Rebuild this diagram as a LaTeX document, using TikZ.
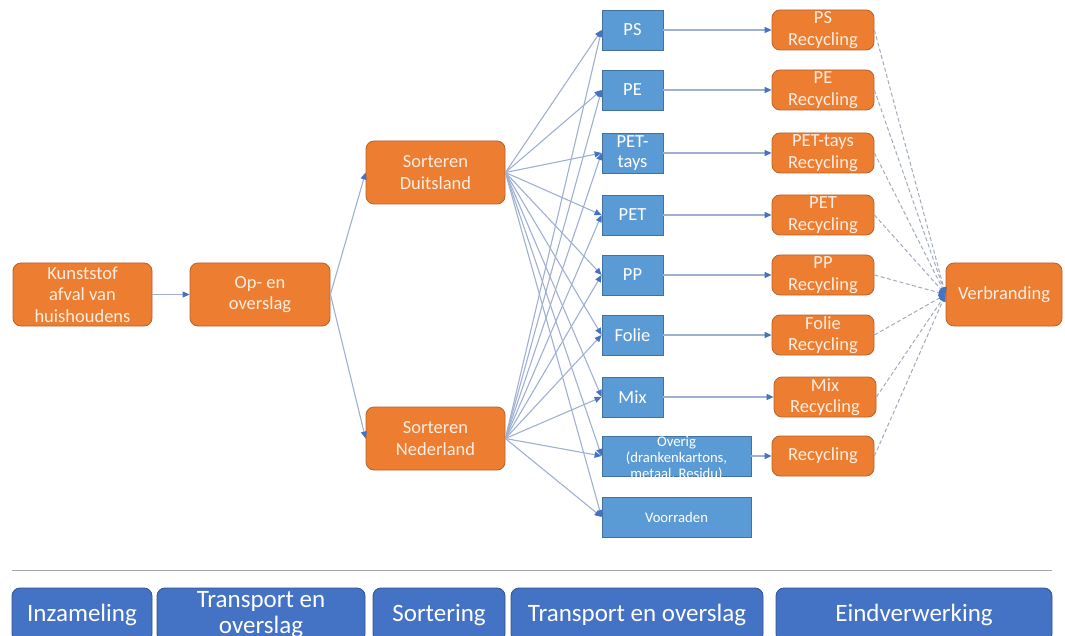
\documentclass[tikz,border=0pt]{standalone}
\usepackage{fontspec}
\setmainfont{Carlito}
\usetikzlibrary{arrows.meta}
\definecolor{orFill}{HTML}{ED7D31}
\definecolor{orLine}{HTML}{B5612A}
\definecolor{orText}{HTML}{FDEEE3}
\definecolor{blFill}{HTML}{5B9BD5}
\definecolor{blLine}{HTML}{41719C}
\definecolor{phFill}{HTML}{4472C4}
\definecolor{phLine}{HTML}{2F528F}
\definecolor{conLine}{HTML}{9FB0D2}
\definecolor{dashLine}{HTML}{A2AABD}
\definecolor{tipBlue}{HTML}{4472C4}
\definecolor{sepGray}{HTML}{A6A6A6}
\tikzset{
  orbox/.style={draw=orLine, fill=orFill, line width=0.8pt, rounded corners=8pt,
    text=orText, align=center, inner sep=0pt, font=\fontsize{18.5}{21.5}\selectfont},
  bigor/.style={orbox, minimum width=139pt, minimum height=63pt},
  recbox/.style={orbox, minimum width=102pt, minimum height=40pt},
  blbox/.style={draw=blLine, fill=blFill, line width=0.8pt, text=white, align=center,
    inner sep=0pt, minimum width=61pt, minimum height=40pt, font=\fontsize{18.5}{20.5}\selectfont},
  wideblbox/.style={blbox, minimum width=149pt, font=\fontsize{14.7}{16}\selectfont},
  phbox/.style={draw=phLine, fill=phFill, line width=0.8pt, rounded corners=8pt, text=white,
    align=center, inner sep=0pt, minimum height=54pt, font=\fontsize{25}{28}\selectfont},
  conn/.style={draw=conLine, line width=1.1pt, -{Triangle[length=7pt,width=6pt,color=tipBlue]}},
  dconn/.style={draw=dashLine, line width=1pt, dash pattern=on 4pt off 2.5pt,
    -{Triangle[length=7pt,width=6pt,color=tipBlue]}},
}
\begin{document}
\begin{tikzpicture}[x=1pt,y=-1pt]
\useasboundingbox (0,0) rectangle (1065,636);
\begin{scope}
\clip (0,0) rectangle (1065,636);
% main nodes
\node[bigor] (kunst) at (82.5,294.5) {Kunststof\\afval van\\huishoudens};
\node[bigor, minimum width=140pt] (opover) at (260,294.5) {Op- en\\overslag};
\node[bigor] (sortD) at (435.5,172.5) {Sorteren\\Duitsland};
\node[bigor] (sortN) at (435.5,438.5) {Sorteren\\Nederland};
% fractions
\node[blbox] (ps) at (632.5,30) {PS};
\node[blbox] (pe) at (632.5,90) {PE};
\node[blbox] (pett) at (632.5,153) {PET-\\tays};
\node[blbox] (pet) at (632.5,215) {PET};
\node[blbox] (pp) at (632.5,275) {PP};
\node[blbox] (folie) at (632.5,335) {Folie};
\node[blbox] (mix) at (632.5,397) {Mix};
\node[wideblbox, align=none] (overig) at (676.5,456)
  {\smash{\raisebox{-6.5pt}{\begin{tabular}{@{}c@{}}Overig\\(drankenkartons,\\metaal, Residu)\end{tabular}}}};
\node[wideblbox] (voorr) at (676.5,517) {Voorraden};
% recycling
\node[recbox] (rps) at (823,30) {PS\\Recycling};
\node[recbox] (rpe) at (823,90) {PE\\Recycling};
\node[recbox] (rpett) at (823,153) {PET-tays\\Recycling};
\node[recbox] (rpet) at (823,215) {PET\\Recycling};
\node[recbox] (rpp) at (823,275) {PP\\Recycling};
\node[recbox] (rfolie) at (823,335) {Folie\\Recycling};
\node[recbox] (rmix) at (825,397) {Mix\\Recycling};
\node[recbox] (roverig) at (823,456) {Recycling};
\node[orbox, minimum width=116pt, minimum height=63pt] (verbr) at (1004,294.5) {Verbranding};
% connectors
\draw[conn] (kunst) -- (opover);
\draw[conn] (opover.east) -- (sortD.west);
\draw[conn] (opover.east) -- (sortN.west);
\foreach \t in {ps,pe,pett,pet,pp,folie,mix,overig,voorr}{
  \draw[conn] (sortD.east) -- (\t.west);
  \draw[conn] (sortN.east) -- (\t.west);
}
\draw[conn] (ps) -- (rps);
\draw[conn] (pe) -- (rpe);
\draw[conn] (pett) -- (rpett);
\draw[conn] (pet) -- (rpet);
\draw[conn] (pp) -- (rpp);
\draw[conn] (folie) -- (rfolie);
\draw[conn] (mix) -- (rmix);
\draw[conn] (overig) -- (roverig);
\foreach \r in {rps,rpe,rpett,rpet,rpp,rfolie,rmix,roverig}{
  \draw[dconn] (\r.east) -- (verbr.west);
}
% separator
\coordinate (sepL) at (12,570);
\coordinate (sepR) at (1052,570);
\draw[sepGray, line width=1pt] (sepL) -- (sepR);
% phases
\node[phbox, minimum width=140pt] (ph1) at (82,615) {Inzameling};
\node[phbox, minimum width=208pt, font=\fontsize{25}{26}\selectfont] (ph2) at (261,615) {Transport en\\overslag};
\node[phbox, minimum width=132pt] (ph3) at (439,615) {Sortering};
\node[phbox, minimum width=252pt] (ph4) at (637,615) {Transport en overslag};
\node[phbox, minimum width=276pt] (ph5) at (914,615) {Eindverwerking};
\end{scope}
\end{tikzpicture}
\end{document}
